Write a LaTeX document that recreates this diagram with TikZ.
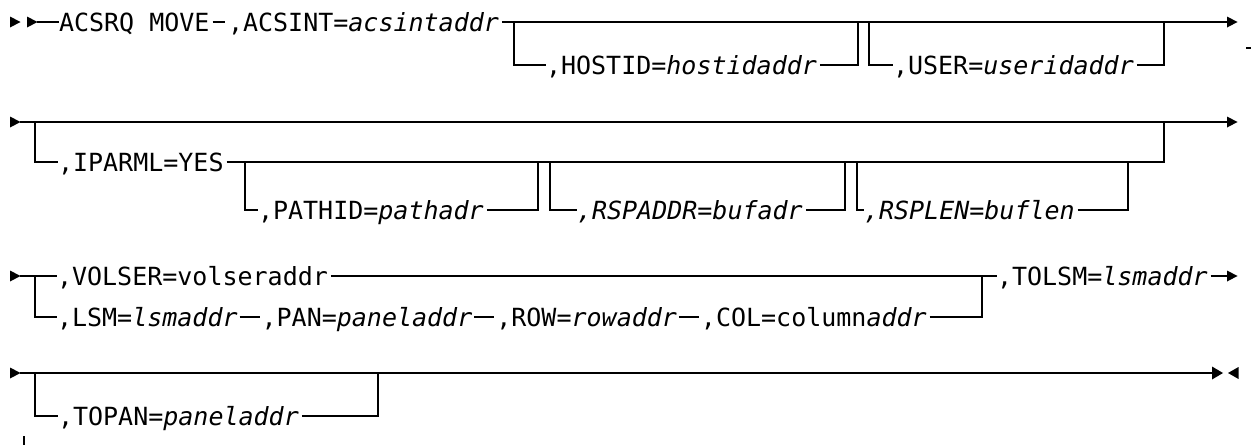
\documentclass[tikz,border=0pt]{standalone}
\usepackage{fontspec}
\newfontfamily\dmono{DejaVu Sans Mono}
\begin{document}
\begin{tikzpicture}[x=0.5pt,y=-0.5pt,line width=1pt,
  tok/.style={anchor=west,inner sep=0pt,outer sep=0pt,
    font=\dmono\fontsize{12.5}{15}\selectfont,text height=9.2pt,text depth=0pt},
  rtri/.pic={\fill (0,-5.5) -- (10.5,0) -- (0,5.5) -- cycle;},
  ltri/.pic={\fill (10.5,-6) -- (0,0) -- (10.5,6) -- cycle;},
  rtrib/.pic={\fill (0,-6.5) -- (11,0) -- (0,6.5) -- cycle;},
  gapr/.style={xshift=1.5pt}]
\useasboundingbox (0,0) rectangle (1251,445);

% ---------------- row 1 ----------------
\pic at (10,22) {rtri};
\pic at (27,22) {rtri};
\coordinate (s1) at (37,22);
\node[tok] (acs) at (59,22) {ACSRQ MOVE};
\node[tok] (int) at (228,22) {,ACSINT=\textit{acsintaddr}};
\node[tok] (host) at (546,65) {,HOSTID=\textit{hostidaddr}};
\node[tok] (user) at (893,65) {,USER=\textit{useridaddr}};
\coordinate (j1) at (514,22);  \coordinate (j1b) at (514,65);
\coordinate (k1) at (858,22);  \coordinate (k1b) at (858,65);
\coordinate (j2) at (869,22);  \coordinate (j2b) at (869,65);
\coordinate (k2) at (1164,22); \coordinate (k2b) at (1164,65);
\coordinate (e1) at (1227,22);
\draw (s1) -- (acs.west);
\draw ([xshift=1.5pt]acs.east) -- ([xshift=-1.5pt]int.west);
\draw ([gapr]int.east) -- (e1);
\pic at (e1) {rtri};
\draw (j1) -- (j1b) -- (host.west);
\draw ([gapr]host.east) -- (k1b) -- (k1);
\draw (j2) -- (j2b) -- (user.west);
\draw ([gapr]user.east) -- (k2b) -- (k2);
% stray marks at the edges
\coordinate (m1) at (1246,48); \coordinate (m2) at (1251,48);
\draw[line width=0.6pt] (m1) -- (m2);

% ---------------- row 2 ----------------
\pic at (10,122) {rtri};
\coordinate (s2) at (20,122);
\coordinate (e2) at (1227,122);
\draw (s2) -- (e2);
\pic at (e2) {rtri};
\node[tok] (ipa) at (58,162) {,IPARML=YES};
\node[tok] (path) at (258,210) {,PATHID=\textit{pathadr}};
\node[tok] (rspa) at (577,210) {\textit{,RSPADDR=bufadr}};
\node[tok] (rspl) at (864,210) {\textit{,RSPLEN=buflen}};
\coordinate (a2) at (35,122);   \coordinate (a2b) at (35,162);
\coordinate (z2) at (1164,122); \coordinate (z2b) at (1164,162);
\coordinate (p1) at (245,162);  \coordinate (p1b) at (245,210);
\coordinate (q1) at (538,162);  \coordinate (q1b) at (538,210);
\coordinate (p2) at (550,162);  \coordinate (p2b) at (550,210);
\coordinate (q2) at (845,162);  \coordinate (q2b) at (845,210);
\coordinate (p3) at (857,162);  \coordinate (p3b) at (857,210);
\coordinate (q3) at (1128,162); \coordinate (q3b) at (1128,210);
\draw (a2) -- (a2b) -- (ipa.west);
\draw ([gapr]ipa.east) -- (z2b) -- (z2);
\draw (p1) -- (p1b) -- (path.west);
\draw ([gapr]path.east) -- (q1b) -- (q1);
\draw (p2) -- (p2b) -- (rspa.west);
\draw ([gapr]rspa.east) -- (q2b) -- (q2);
\draw (p3) -- (p3b) -- (rspl.west);
\draw ([gapr]rspl.east) -- (q3b) -- (q3);

% ---------------- row 3 ----------------
\pic at (10,276) {rtri};
\coordinate (s3) at (20,276);
\coordinate (a3) at (35,276); \coordinate (a3b) at (35,317);
\coordinate (z3) at (982,276); \coordinate (z3b) at (982,317);
\coordinate (e3) at (1227,276);
\node[tok] (vol) at (57,276) {,VOLSER=volseraddr};
\node[tok] (lsm) at (57,317) {,LSM=\textit{lsmaddr}};
\node[tok] (pan) at ([xshift=12pt]lsm.east) {,PAN=\textit{paneladdr}};
\node[tok] (row) at ([xshift=12pt]pan.east) {,ROW=\textit{rowaddr}};
\node[tok] (col) at ([xshift=12pt]row.east) {,COL=column\textit{addr}};
\node[tok] (tol) at (997,276) {,TOLSM=\textit{lsmaddr}};
\draw (s3) -- (a3) -- (vol.west);
\draw (a3) -- (a3b) -- (lsm.west);
\draw ([gapr]vol.east) -- (z3) -- (tol.west);
\draw ([xshift=1pt]lsm.east) -- ([xshift=-1pt]pan.west);
\draw ([xshift=1pt]pan.east) -- ([xshift=-1pt]row.west);
\draw ([xshift=1pt]row.east) -- ([xshift=-1pt]col.west);
\draw ([gapr]col.east) -- (z3b) -- (z3);
\draw ([gapr]tol.east) -- (e3);
\pic at (e3) {rtri};

% ---------------- row 4 ----------------
\pic at (10,373) {rtri};
\coordinate (s4) at (20,373);
\coordinate (e4) at (1212,373);
\coordinate (a4) at (35,373);   \coordinate (a4b) at (35,416);
\coordinate (z4) at (378,373);  \coordinate (z4b) at (378,416);
\node[tok] (topan) at (58,416) {,TOPAN=\textit{paneladdr}};
\draw (s4) -- (e4);
\pic at (e4) {rtrib};
\pic at (1228,373) {ltri};
\draw (a4) -- (a4b) -- (topan.west);
\draw ([gapr]topan.east) -- (z4b) -- (z4);
\coordinate (m3) at (24,436); \coordinate (m4) at (24,445);
\draw[line width=0.8pt] (m3) -- (m4);
\end{tikzpicture}
\end{document}
